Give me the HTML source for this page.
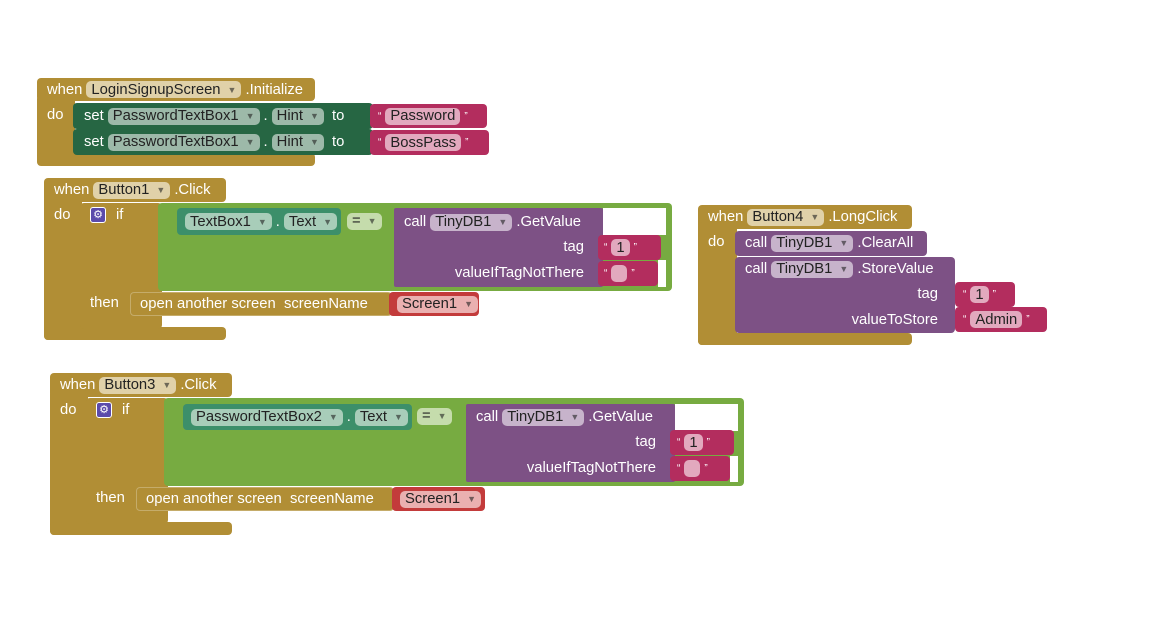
<!DOCTYPE html>
<html><head><meta charset="utf-8"><style>
body{margin:0;width:1149px;height:628px;background:#fff;position:relative;overflow:hidden;font-family:"Liberation Sans",sans-serif;font-size:14.8px;color:#fff}
.b{position:absolute;border-radius:4px}
.r{position:absolute;display:flex;align-items:center;white-space:nowrap}
.p{display:inline-flex;align-items:center;height:17px;padding:0 5px;border-radius:5px;color:#222;margin:0 4px}
.p i{font-style:normal;font-size:9px;margin-left:7px;opacity:.6}
.ev{background:#b18e35}.evp{background:#e0d1a9}
.st{background:#266643}.stp{background:#9db9a9}
.cm{background:#3c8f6a}.cmp{background:#a8cdb9}
.sr{background:#b32d5e}.srp{background:#e2a9be}
.pu{background:#7d5185}.pup{background:#c7b3cb}
.lg{background:#77ab41}.lgp{background:#c5dcac}
.sc{background:#c33b3b}.scp{background:#eab0b0}
.w{background:#fff}
.q{align-self:flex-start;margin-top:3px}
.gear{display:inline-block;width:14px;height:14px;background:#5b4bab;border:1px solid #fff;border-radius:3px;font-size:11px;line-height:14px;text-align:center;margin-right:10px}
</style></head><body>

<!-- Block 1 -->
<div class="b ev" style="left:37px;top:78px;width:278px;height:23px"></div>
<div class="b ev" style="left:37px;top:95px;width:38px;height:70px"></div>
<div class="b ev" style="left:37px;top:153px;width:278px;height:13px"></div>
<div class="r" style="left:47px;top:78px;height:23px">when<span class="p evp">LoginSignupScreen<i>▼</i></span>.Initialize</div>
<div class="r" style="left:47px;top:105px;height:20px">do</div>
<div class="b st" style="left:73px;top:103px;width:300px;height:26px"></div>
<div class="b st" style="left:73px;top:129px;width:300px;height:26px"></div>
<div class="r" style="left:84px;top:103px;height:26px">set<span class="p stp">PasswordTextBox1<i>▼</i></span>.<span class="p stp">Hint<i>▼</i></span>&nbsp;to</div>
<div class="r" style="left:84px;top:129px;height:26px">set<span class="p stp">PasswordTextBox1<i>▼</i></span>.<span class="p stp">Hint<i>▼</i></span>&nbsp;to</div>
<div class="b sr" style="left:370px;top:104px;width:117px;height:24px"></div>
<div class="b sr" style="left:370px;top:130px;width:119px;height:25px"></div>
<div class="r" style="left:378px;top:104px;height:24px;font-size:10px">“<span class="p srp" style="font-size:14.8px">Password</span>”</div>
<div class="r" style="left:378px;top:130px;height:25px;font-size:10px">“<span class="p srp" style="font-size:14.8px">BossPass</span>”</div>

<!-- Block 2 -->
<div class="b ev" style="left:44px;top:178px;width:182px;height:24px"></div>
<div class="b ev" style="left:44px;top:195px;width:38px;height:145px"></div>
<div class="b ev" style="left:44px;top:327px;width:182px;height:13px"></div>
<div class="r" style="left:54px;top:178px;height:24px">when<span class="p evp">Button1<i>▼</i></span>.Click</div>
<div class="r" style="left:54px;top:205px;height:20px">do</div>
<div class="b ev" style="left:80px;top:203px;width:82px;height:126px"></div>
<div class="b lg" style="left:158px;top:203px;width:514px;height:88px"></div>
<div class="b w" style="left:603px;top:208px;width:63px;height:27px;border-radius:0"></div>
<div class="b w" style="left:658px;top:260px;width:8px;height:27px;border-radius:0"></div>
<div class="r" style="left:90px;top:205px;height:20px"><span class="gear">⚙</span>if</div>
<div class="b cm" style="left:177px;top:208px;width:164px;height:27px"></div>
<div class="r" style="left:181px;top:208px;height:27px"><span class="p cmp">TextBox1<i>▼</i></span>.<span class="p cmp">Text<i>▼</i></span></div>
<div class="r" style="left:343px;top:212px;height:18px"><span class="p lgp">=<i>▼</i></span></div>
<div class="b pu" style="left:394px;top:208px;width:209px;height:79px;border-radius:2px"></div>
<div class="r" style="left:404px;top:210px;height:24px">call<span class="p pup">TinyDB1<i>▼</i></span>.GetValue</div>
<div class="r" style="left:394px;top:235px;width:190px;height:24px;justify-content:flex-end">tag</div>
<div class="r" style="left:394px;top:261px;width:190px;height:24px;justify-content:flex-end">valueIfTagNotThere</div>
<div class="b sr" style="left:598px;top:235px;width:63px;height:25px"></div>
<div class="b sr" style="left:598px;top:261px;width:60px;height:25px"></div>
<div class="r" style="left:604px;top:235px;height:25px;font-size:10px">“<span class="p srp" style="font-size:14.8px">1</span>”</div>
<div class="r" style="left:604px;top:261px;height:25px;font-size:10px">“<span class="p srp" style="font-size:14.8px;width:6px"></span>”</div>
<div class="r" style="left:90px;top:292px;height:22px">then</div>
<div class="b ev" style="left:130px;top:292px;width:262px;height:24px;border:1px solid #fff4;box-sizing:border-box"></div>
<div class="r" style="left:140px;top:292px;height:24px">open another screen&nbsp;&nbsp;screenName</div>
<div class="b sc" style="left:389px;top:292px;width:90px;height:24px"></div>
<div class="r" style="left:393px;top:292px;height:24px"><span class="p scp">Screen1<i>▼</i></span></div>

<!-- Block 3 -->
<div class="b ev" style="left:50px;top:373px;width:182px;height:24px"></div>
<div class="b ev" style="left:50px;top:390px;width:38px;height:145px"></div>
<div class="b ev" style="left:50px;top:522px;width:182px;height:13px"></div>
<div class="r" style="left:60px;top:373px;height:24px">when<span class="p evp">Button3<i>▼</i></span>.Click</div>
<div class="r" style="left:60px;top:400px;height:20px">do</div>
<div class="b ev" style="left:86px;top:398px;width:82px;height:126px"></div>
<div class="b lg" style="left:164px;top:398px;width:580px;height:88px"></div>
<div class="b w" style="left:675px;top:404px;width:63px;height:27px;border-radius:0"></div>
<div class="b w" style="left:730px;top:456px;width:8px;height:26px;border-radius:0"></div>
<div class="r" style="left:96px;top:400px;height:20px"><span class="gear">⚙</span>if</div>
<div class="b cm" style="left:183px;top:404px;width:229px;height:26px"></div>
<div class="r" style="left:187px;top:404px;height:26px"><span class="p cmp">PasswordTextBox2<i>▼</i></span>.<span class="p cmp">Text<i>▼</i></span></div>
<div class="r" style="left:413px;top:407px;height:18px"><span class="p lgp">=<i>▼</i></span></div>
<div class="b pu" style="left:466px;top:404px;width:209px;height:78px;border-radius:2px"></div>
<div class="r" style="left:476px;top:405px;height:24px">call<span class="p pup">TinyDB1<i>▼</i></span>.GetValue</div>
<div class="r" style="left:466px;top:430px;width:190px;height:24px;justify-content:flex-end">tag</div>
<div class="r" style="left:466px;top:456px;width:190px;height:24px;justify-content:flex-end">valueIfTagNotThere</div>
<div class="b sr" style="left:670px;top:430px;width:64px;height:25px"></div>
<div class="b sr" style="left:670px;top:456px;width:60px;height:25px"></div>
<div class="r" style="left:677px;top:430px;height:25px;font-size:10px">“<span class="p srp" style="font-size:14.8px">1</span>”</div>
<div class="r" style="left:677px;top:456px;height:25px;font-size:10px">“<span class="p srp" style="font-size:14.8px;width:6px"></span>”</div>
<div class="r" style="left:96px;top:487px;height:22px">then</div>
<div class="b ev" style="left:136px;top:487px;width:258px;height:24px;border:1px solid #fff4;box-sizing:border-box"></div>
<div class="r" style="left:146px;top:487px;height:24px">open another screen&nbsp;&nbsp;screenName</div>
<div class="b sc" style="left:392px;top:487px;width:93px;height:24px"></div>
<div class="r" style="left:396px;top:487px;height:24px"><span class="p scp">Screen1<i>▼</i></span></div>

<!-- Block 4 -->
<div class="b ev" style="left:698px;top:205px;width:214px;height:24px"></div>
<div class="b ev" style="left:698px;top:222px;width:39px;height:123px"></div>
<div class="b ev" style="left:698px;top:333px;width:214px;height:12px"></div>
<div class="r" style="left:708px;top:205px;height:24px">when<span class="p evp">Button4<i>▼</i></span>.LongClick</div>
<div class="r" style="left:708px;top:232px;height:20px">do</div>
<div class="b pu" style="left:735px;top:231px;width:192px;height:25px"></div>
<div class="b pu" style="left:735px;top:257px;width:220px;height:76px"></div>
<div class="r" style="left:745px;top:231px;height:24px">call<span class="p pup">TinyDB1<i>▼</i></span>.ClearAll</div>
<div class="r" style="left:745px;top:257px;height:24px">call<span class="p pup">TinyDB1<i>▼</i></span>.StoreValue</div>
<div class="r" style="left:735px;top:282px;width:203px;height:24px;justify-content:flex-end">tag</div>
<div class="r" style="left:735px;top:308px;width:203px;height:24px;justify-content:flex-end">valueToStore</div>
<div class="b sr" style="left:955px;top:282px;width:60px;height:25px"></div>
<div class="b sr" style="left:955px;top:307px;width:92px;height:25px"></div>
<div class="r" style="left:963px;top:282px;height:25px;font-size:10px">“<span class="p srp" style="font-size:14.8px">1</span>”</div>
<div class="r" style="left:963px;top:307px;height:25px;font-size:10px">“<span class="p srp" style="font-size:14.8px">Admin</span>”</div>

</body></html>
